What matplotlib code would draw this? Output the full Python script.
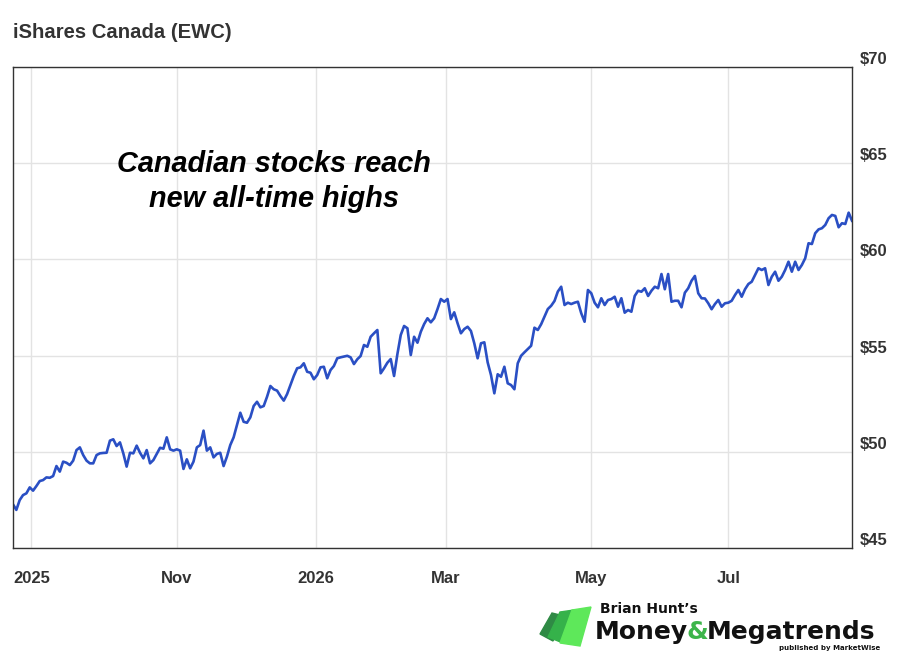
import numpy as np
import matplotlib
matplotlib.use("Agg")
import matplotlib.pyplot as plt
from matplotlib.patches import Polygon
from matplotlib.transforms import ScaledTranslation

plt.rcParams['font.family'] = ['Liberation Sans', 'DejaVu Sans']

# EWC closing prices, one per trading day
prices = [
    47.27, 46.98, 47.49, 47.75, 47.84, 48.15, 47.98, 48.22, 48.48, 48.53,
    48.67, 48.65, 48.74, 49.26, 48.97, 49.49, 49.43, 49.31, 49.54, 50.09,
    50.23, 49.83, 49.54, 49.40, 49.40, 49.83, 49.92, 49.94, 49.95, 50.58,
    50.65, 50.30, 50.49, 49.92, 49.23, 49.95, 49.92, 50.32, 49.95, 49.66,
    50.09, 49.40, 49.57, 49.89, 50.21, 50.16, 50.75, 50.13, 50.06, 50.13,
    50.06, 49.11, 49.61, 49.14, 49.49, 50.23, 50.35, 51.10, 50.06, 50.23,
    49.71, 49.89, 49.95, 49.26, 49.75, 50.35, 50.75, 51.39, 52.03, 51.56,
    51.51, 51.79, 52.38, 52.60, 52.31, 52.38, 52.86, 53.42, 53.25, 53.18,
    52.90, 52.66, 53.00, 53.47, 53.94, 54.34, 54.39, 54.60, 54.16, 54.11,
    53.77, 53.99, 54.39, 54.42, 53.82, 54.25, 54.46, 54.86, 54.91, 54.95,
    54.99, 54.91, 54.56, 54.81, 54.98, 55.55, 55.46, 55.98, 56.16, 56.33,
    54.08, 54.34, 54.63, 54.82, 53.94, 55.08, 56.07, 56.54, 56.42, 55.03,
    55.98, 55.67, 56.24, 56.64, 56.94, 56.73, 56.94, 57.42, 57.94, 57.80,
    57.94, 56.90, 57.25, 56.68, 56.16, 56.38, 56.50, 56.28, 55.64, 54.86,
    55.64, 55.69, 54.65, 53.99, 53.04, 54.03, 53.90, 54.42, 53.56, 53.47,
    53.25, 54.60, 54.99, 55.17, 55.34, 55.51, 56.45, 56.33, 56.63, 57.02,
    57.42, 57.59, 57.84, 58.33, 58.58, 57.63, 57.75, 57.68, 57.75, 57.80,
    57.20, 56.76, 58.41, 58.24, 57.75, 57.51, 57.98, 57.63, 57.89, 57.94,
    58.06, 57.54, 57.98, 57.23, 57.37, 57.28, 58.10, 58.37, 58.32, 58.50,
    58.10, 58.37, 58.58, 58.50, 59.24, 58.45, 59.24, 57.80, 57.85, 57.85,
    57.51, 58.27, 58.50, 58.89, 59.14, 58.24, 57.98, 57.97, 57.72, 57.41,
    57.68, 57.89, 57.54, 57.72, 57.75, 57.85, 58.15, 58.41, 58.06, 58.45,
    58.72, 58.84, 59.19, 59.54, 59.45, 59.54, 58.67, 59.10, 59.36, 58.89,
    59.10, 59.45, 59.88, 59.36, 59.88, 59.45, 59.71, 60.06, 60.84, 60.80,
    61.36, 61.56, 61.62, 61.79, 62.14, 62.31, 62.26, 61.67, 61.88, 61.84,
    62.43, 62.01,
]
days = np.arange(len(prices))

# x labels sit on trading-day indices
tick_days = [5.5, 49, 90.5, 129.5, 173, 214]
tick_labels = ["2025", "Nov", "2026", "Mar", "May", "Jul"]
y_ticks = [45, 50, 55, 60, 65, 70]

fig = plt.figure(figsize=(9, 6.63), dpi=100)
ax = fig.add_axes([13/900, 1 - 548/663, (852 - 13)/900, (548 - 67)/663])

ax.plot(days, prices, color="#2a4fc4", lw=1.9, solid_joinstyle="round")
ax.set_xlim(0, len(prices) - 1)
ax.set_ylim(45, 70)

ax.set_xticks(tick_days)
ax.set_xticklabels(tick_labels)
ax.set_yticks(y_ticks)
ax.set_yticklabels(["$%d" % v for v in y_ticks])
ax.yaxis.tick_right()
ax.grid(True, color="#e3e3e3", lw=1)
ax.set_axisbelow(True)
ax.tick_params(axis="both", length=0, labelsize=12, labelcolor="#333333")
ax.tick_params(axis="x", pad=16.5)
ax.tick_params(axis="y", pad=5.5)
for lab in ax.get_xticklabels() + ax.get_yticklabels():
    lab.set_fontweight("bold")
# y labels sit a bit above their gridlines
for lab in ax.get_yticklabels():
    lab.set_transform(lab.get_transform() + ScaledTranslation(0, 6.5/72, fig.dpi_scale_trans))
for s in ax.spines.values():
    s.set_color("#333333")
    s.set_linewidth(1)

fig.text(13/900, 1 - 33/663, "iShares Canada (EWC)", fontsize=14.6, fontweight="bold",
         color="#333333", va="center", ha="left")

ax.text(0.311, 0.762, "Canadian stocks reach\nnew all-time highs", transform=ax.transAxes,
        fontsize=20.8, fontweight="bold", fontstyle="italic", ha="center", va="center",
        linespacing=1.3, color="black")

# logo
lg = fig.add_axes([530/900, 0, 370/900, 68/663])
lg.set_xlim(530, 900)
lg.set_ylim(663, 595)
lg.axis("off")
lg.add_patch(Polygon([(540, 634), (552, 613), (564, 616), (553, 641)], closed=True, color="#2f8a45"))
lg.add_patch(Polygon([(548, 637), (560, 612), (574, 610), (563, 643)], closed=True, color="#35b24a"))
lg.add_patch(Polygon([(560, 643), (572, 610), (591, 607), (580, 646)], closed=True, color="#5ee85a"))
lg.text(600, 609, "Brian Hunt\u2019s", fontsize=10, fontweight="bold", color="#111111",
        va="center", ha="left", family=["DejaVu Sans"])
t1 = lg.text(595, 632, "Money", fontsize=18, fontweight="heavy", color="#111111",
             va="center", ha="left", family=["DejaVu Sans"])
t2 = lg.annotate("&", xy=(1, 0.5), xycoords=t1, xytext=(-1, 0), textcoords="offset points",
                 fontsize=18, fontweight="heavy", color="#3db54a",
                 va="center", ha="left", family=["DejaVu Sans"])
lg.annotate("Megatrends", xy=(1, 0.5), xycoords=t2, xytext=(-1, 0), textcoords="offset points",
            fontsize=18, fontweight="heavy", color="#111111",
            va="center", ha="left", family=["DejaVu Sans"])
lg.text(880, 648, "published by MarketWise", fontsize=5, fontweight="bold", color="#111111",
        va="center", ha="right", family=["DejaVu Sans"])

fig.savefig("out.png", dpi=100, facecolor="white")
